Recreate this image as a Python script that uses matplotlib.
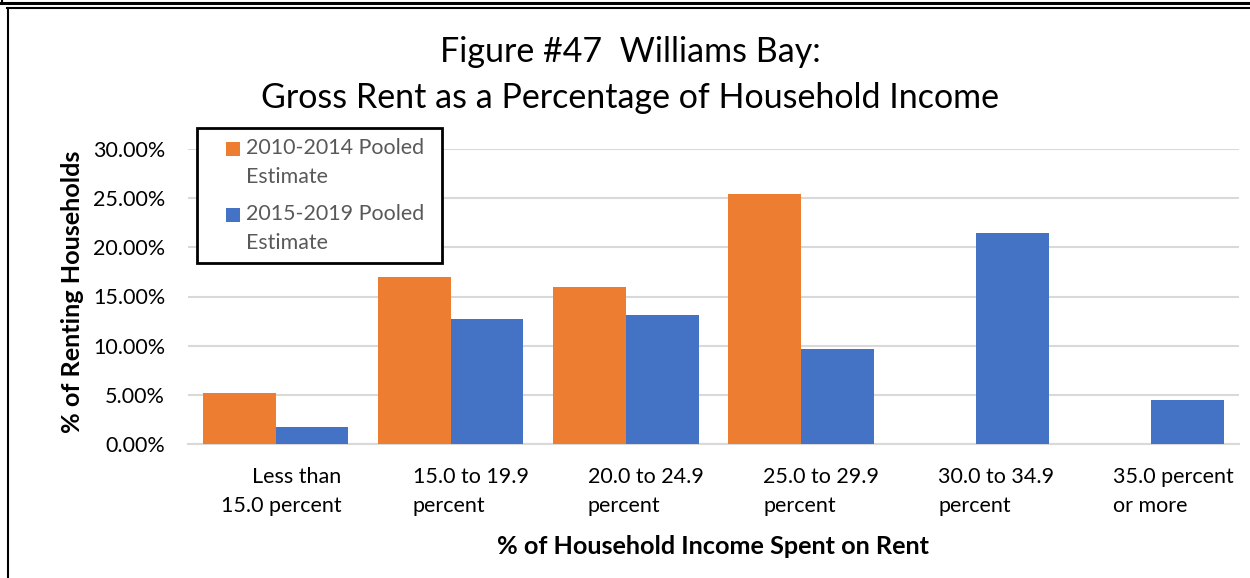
import matplotlib
matplotlib.use("Agg")
import matplotlib.pyplot as plt
import matplotlib.transforms as mtransforms
from matplotlib.lines import Line2D
from matplotlib.patches import Rectangle
from matplotlib.container import BarContainer
from matplotlib.legend_handler import HandlerPatch
from matplotlib.ticker import PercentFormatter
import numpy as np

# rent burden categories and pooled ACS estimates (percent of renting households)
categories = ["Less than\n15.0 percent", "15.0 to 19.9\npercent", "20.0 to 24.9\npercent",
              "25.0 to 29.9\npercent", "30.0 to 34.9\npercent", "35.0 percent\nor more"]
est_2010_2014 = [5.25, 17.0, 16.0, 25.45, 0.0, 0.0]
est_2015_2019 = [1.8, 12.7, 13.1, 9.7, 21.4, 4.5]
series_names = ["2010-2014 Pooled\nEstimate", "2015-2019 Pooled\nEstimate"]
y_ticks = [0, 5, 10, 15, 20, 25, 30]

ORANGE = "#ED7D31"
BLUE = "#4472C4"
GRID = "#D9D9D9"

plt.rcParams["font.family"] = ["Lato", "DejaVu Sans"]

W, H, DPI = 1250, 578, 100
fig = plt.figure(figsize=(W / DPI, H / DPI), dpi=DPI)
ax = fig.add_axes([188 / W, 1 - 444.3 / H, (1239 - 188) / W, (444.3 - 148.7) / H])

x = np.arange(len(categories))
bw = 0.415
ax.bar(x - bw / 2, est_2010_2014, bw, color=ORANGE, label=series_names[0], zorder=3)
ax.bar(x + bw / 2, est_2015_2019, bw, color=BLUE, label=series_names[1], zorder=3)

ax.set_xlim(-0.5, len(categories) - 0.5)
ax.set_ylim(0, 30)
ax.set_yticks(y_ticks)
ax.yaxis.set_major_formatter(PercentFormatter(decimals=2))
ax.grid(axis="y", color=GRID, linewidth=1.5, zorder=0)
for s in ["top", "right", "left"]:
    ax.spines[s].set_visible(False)
ax.spines["bottom"].set_color(GRID)
ax.spines["bottom"].set_linewidth(1.5)
ax.tick_params(axis="both", length=0, labelsize=15.5, labelcolor="#000000")
ax.tick_params(axis="y", pad=16.5)
ax.tick_params(axis="x", pad=16.5)

ax.set_xticks(x, categories)
for i, lab in enumerate(ax.get_xticklabels()):
    lab.set_linespacing(1.57)
    if i == 0:
        lab.set_ha("right")
        lab.set_multialignment("right")
        dx = 66
    else:
        lab.set_ha("left")
        lab.set_multialignment("left")
        dx = -38
    lab.set_transform(lab.get_transform() +
                      mtransforms.ScaledTranslation(dx / DPI, 0, fig.dpi_scale_trans))

ax.set_ylabel("% of Renting Households", fontsize=18.2, fontweight="bold")
ax.yaxis.set_label_coords(84 / W, 1 - 292 / H, transform=fig.transFigure)
ax.set_xlabel("% of Household Income Spent on Rent", fontsize=18.2, fontweight="bold")
ax.xaxis.set_label_coords(713 / W, 1 - 535 / H, transform=fig.transFigure)

fig.text(630 / W, 1 - 75 / H, "Figure #47  Williams Bay:\nGross Rent as a Percentage of Household Income",
         ha="center", va="center", fontsize=24.5, linespacing=1.55)


# legend swatch: small square at the right of the handle box, beside the first label line
def top_square(legend, orig_handle, xdescent, ydescent, width, height, fontsize):
    side = 10
    return Rectangle((-xdescent + width - side, -ydescent + height / 2 - side / 2 + 10), side, side)


def first_bar_style(handle, orig):
    handle.set_facecolor(orig.patches[0].get_facecolor())
    handle.set_edgecolor("none")


leg = ax.legend(loc="upper left", bbox_to_anchor=(197 / W, 1 - 262 / H, 245 / W, 134 / H),
                bbox_transform=fig.transFigure, mode="expand",
                fontsize=15.4, labelcolor="#595959", frameon=True, fancybox=False,
                edgecolor="black", framealpha=1, borderpad=0.47, handlelength=1.55, handletextpad=0.28,
                labelspacing=0.81, borderaxespad=0,
                handler_map={BarContainer: HandlerPatch(patch_func=top_square,
                                                        update_func=first_bar_style)})
leg.get_frame().set_linewidth(2)
for t in leg.get_texts():
    t.set_linespacing(1.54)

# page border lines
fig.add_artist(Line2D([0, 1], [1 - 3 / H, 1 - 3 / H], color="black", linewidth=2.2))
fig.add_artist(Line2D([2 / W, 2 / W], [1, 1 - 3 / H], color="black", linewidth=1.5))
fig.add_artist(Line2D([7 / W, 1], [1 - 7.5 / H, 1 - 7.5 / H], color="black", linewidth=1.5))
fig.add_artist(Line2D([7.5 / W, 7.5 / W], [0, 1 - 7.5 / H], color="black", linewidth=1.5))

fig.savefig("out.png", dpi=DPI)
